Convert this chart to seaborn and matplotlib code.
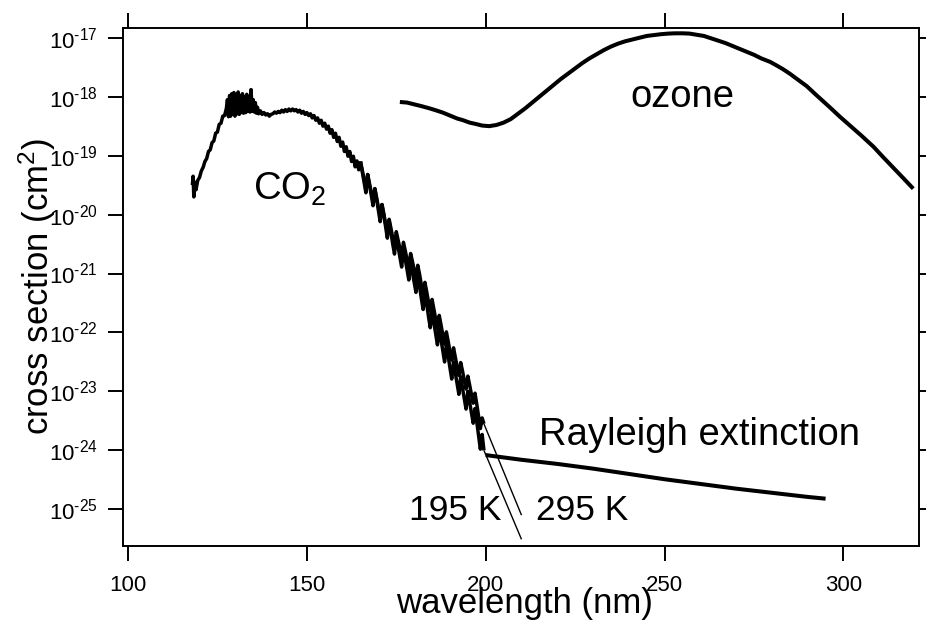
import numpy as np
import pandas as pd
import matplotlib
matplotlib.use("Agg")
import matplotlib.pyplot as plt
import seaborn as sns
from matplotlib.ticker import FixedLocator, NullLocator

# ---- data: log10 of absorption cross section (cm^2) vs wavelength (nm) ----

# CO2, part common to both temperatures (118-165 nm)
co2_shared_nm = [
    118.0, 118.2, 118.4, 118.7, 119.0, 119.5, 120.0, 120.5, 121.0, 121.5,
    122.0, 122.5, 123.0, 123.5, 124.0, 124.5, 125.0, 125.5, 126.0, 126.5,
    127.0, 127.5, 127.8, 128.1, 128.4, 128.7, 129.0, 129.3, 129.6, 129.9,
    130.2, 130.5, 130.8, 131.1, 131.4, 131.7, 132.0, 132.3, 132.6, 132.9,
    133.2, 133.5, 133.8, 134.1, 134.4, 134.7, 135.0, 135.3, 135.6, 135.9,
    136.2, 136.5, 137.0, 137.5, 138.0, 138.5, 139.0, 139.5, 140.0, 140.5,
    141.0, 141.5, 142.0, 142.5, 143.0, 143.5, 144.0, 144.5, 145.0, 145.5,
    146.0, 146.5, 147.0, 147.5, 148.0, 148.5, 149.0, 149.5, 150.0, 150.5,
    151.0, 151.5, 152.0, 152.5, 153.0, 153.5, 154.0, 154.5, 155.0, 155.5,
    156.0, 156.5, 157.0, 157.5, 158.0, 158.5, 159.0, 159.5, 160.0, 160.5,
    161.0, 161.5, 162.0, 162.5, 163.0, 163.5, 164.0, 164.5,
]
co2_shared_log = [
    -19.50, -19.35, -19.70, -19.45, -19.58, -19.42, -19.37, -19.26, -19.20, -19.10,
    -19.05, -18.93, -18.90, -18.78, -18.75, -18.62, -18.60, -18.47, -18.45, -18.33,
    -18.32, -18.20, -18.05, -18.34, -17.98, -18.33, -17.95, -18.30, -17.93, -18.33,
    -17.97, -18.29, -17.92, -18.30, -17.98, -18.27, -17.95, -18.28, -18.00, -18.27,
    -17.96, -18.25, -18.02, -18.26, -17.88, -18.25, -18.05, -18.26, -18.10, -18.28,
    -18.18, -18.29, -18.24, -18.30, -18.27, -18.31, -18.29, -18.33, -18.30, -18.29,
    -18.26, -18.28, -18.25, -18.27, -18.23, -18.26, -18.22, -18.25, -18.21, -18.24,
    -18.21, -18.24, -18.22, -18.26, -18.23, -18.28, -18.25, -18.30, -18.27, -18.32,
    -18.29, -18.36, -18.32, -18.40, -18.36, -18.45, -18.40, -18.50, -18.45, -18.55,
    -18.50, -18.62, -18.56, -18.69, -18.62, -18.76, -18.69, -18.84, -18.77, -18.93,
    -18.85, -19.01, -18.93, -19.10, -19.01, -19.19, -19.09, -19.24,
]

# CO2 band structure 165-199.5 nm, 0.5 nm sampling
co2_band_nm = np.arange(165.0, 200.0, 0.5)
co2_195K_log = [
    -19.10, -19.28, -19.45, -19.63, -19.32, -19.50, -19.67, -19.85, -19.56, -19.74,
    -19.93, -20.12, -19.83, -20.01, -20.20, -20.40, -20.10, -20.30, -20.50, -20.67,
    -20.37, -20.54, -20.72, -20.89, -20.59, -20.76, -20.93, -21.11, -20.80, -20.98,
    -21.15, -21.32, -21.02, -21.22, -21.42, -21.61, -21.33, -21.52, -21.73, -21.92,
    -21.64, -21.83, -22.02, -22.21, -21.93, -22.12, -22.31, -22.50, -22.21, -22.40,
    -22.60, -22.79, -22.50, -22.69, -22.87, -23.05, -22.75, -22.94, -23.12, -23.30,
    -23.00, -23.18, -23.36, -23.54, -23.29, -23.52, -23.75, -23.98, -23.73, -24.00,
]
co2_295K_log = [
    -19.10, -19.25, -19.40, -19.55, -19.32, -19.47, -19.62, -19.77, -19.56, -19.71,
    -19.88, -20.04, -19.83, -19.98, -20.15, -20.30, -20.08, -20.23, -20.39, -20.53,
    -20.29, -20.43, -20.57, -20.71, -20.47, -20.61, -20.76, -20.89, -20.66, -20.79,
    -20.94, -21.08, -20.86, -21.01, -21.19, -21.35, -21.15, -21.31, -21.48, -21.64,
    -21.44, -21.60, -21.77, -21.93, -21.71, -21.87, -22.04, -22.20, -21.99, -22.15,
    -22.32, -22.47, -22.26, -22.42, -22.58, -22.73, -22.51, -22.65, -22.81, -22.96,
    -22.74, -22.89, -23.05, -23.20, -23.03, -23.22, -23.42, -23.63, -23.45, -23.55,
]

# Long-wavelength extrapolation of CO2 (thin lines)
co2_extrap_nm = [199.5, 210.0]
co2_195K_extrap_log = [-24.00, -25.51]
co2_295K_extrap_log = [-23.55, -25.10]

# Ozone
ozone_nm = [176.0, 178.0, 180.0, 182.0, 184.4, 186.0, 188.0, 190.0, 192.0, 193.7,
            195.5, 197.0, 199.0, 201.0, 203.0, 205.0, 207.0, 209.0, 211.0, 213.0,
            215.0, 217.0, 219.0, 221.0, 223.0, 225.0, 227.0, 229.0, 231.0, 233.0,
            235.0, 237.0, 239.0, 241.0, 243.0, 245.0, 247.0, 249.0, 251.0, 253.0,
            255.0, 257.0, 259.0, 261.0, 263.0, 265.0, 267.0, 269.0, 271.0, 273.0,
            275.0, 277.0, 279.5, 281.0, 283.0, 285.0, 287.0, 289.7, 292.0, 294.0,
            296.0, 299.0, 302.0, 305.0, 308.4, 311.0, 314.0, 317.0, 319.5]
ozone_log = [-18.09, -18.10, -18.13, -18.16, -18.20, -18.23, -18.27, -18.32, -18.37, -18.40,
             -18.44, -18.46, -18.49, -18.50, -18.48, -18.44, -18.38, -18.29, -18.20, -18.10,
             -18.00, -17.90, -17.80, -17.70, -17.61, -17.52, -17.43, -17.35, -17.28, -17.21,
             -17.15, -17.10, -17.06, -17.03, -17.00, -16.97, -16.955, -16.94, -16.93, -16.925,
             -16.925, -16.93, -16.95, -16.97, -17.01, -17.05, -17.09, -17.14, -17.19, -17.24,
             -17.29, -17.35, -17.41, -17.46, -17.53, -17.61, -17.70, -17.82, -17.95, -18.06,
             -18.17, -18.34, -18.50, -18.66, -18.85, -19.02, -19.21, -19.40, -19.56]

# Rayleigh extinction
rayleigh_nm = [200, 210, 220, 230, 240, 250, 260, 270, 280, 290, 295]
rayleigh_log = [-24.08, -24.16, -24.23, -24.31, -24.40, -24.49, -24.57, -24.65, -24.72, -24.79, -24.82]

# Axis ticks
x_ticks = [100, 150, 200, 250, 300]
y_tick_exps = [-25, -24, -23, -22, -21, -20, -19, -18, -17]

# ---- style ----
sns.set_theme(style="ticks")
plt.rcParams["font.family"] = ["Liberation Sans", "DejaVu Sans"]
plt.rcParams["mathtext.fontset"] = "custom"
plt.rcParams["mathtext.rm"] = "Liberation Sans"
plt.rcParams["mathtext.it"] = "Liberation Sans:italic"
plt.rcParams["mathtext.bf"] = "Liberation Sans:bold"

fig = plt.figure(figsize=(9.26, 6.21), dpi=100)
ax = fig.add_axes([0.1328, 0.1214, 0.8596, 0.8335])

ink = "black"

def draw(xs, logs, lw):
    df = pd.DataFrame({"nm": xs, "sigma": np.power(10.0, logs)})
    sns.lineplot(data=df, x="nm", y="sigma", ax=ax, color=ink, linewidth=lw,
                 estimator=None, sort=False, solid_joinstyle="round",
                 solid_capstyle="butt")

draw(co2_shared_nm + [165.0], co2_shared_log + [co2_195K_log[0]], 2.5)
draw(co2_band_nm, co2_195K_log, 2.5)
draw(co2_band_nm, co2_295K_log, 2.5)
draw(co2_extrap_nm, co2_195K_extrap_log, 1.0)
draw(co2_extrap_nm, co2_295K_extrap_log, 1.0)
draw(ozone_nm, ozone_log, 2.9)
draw(rayleigh_nm, rayleigh_log, 2.9)

ax.set_yscale("log")
ax.set_xlim(98.6, 321.1)
ax.set_ylim(10 ** -25.616, 10 ** -16.835)
ax.xaxis.set_major_locator(FixedLocator(x_ticks))
ax.set_xticklabels([str(v) for v in x_ticks])
ax.yaxis.set_major_locator(FixedLocator([10.0 ** e for e in y_tick_exps]))
ax.set_yticklabels([r"$10^{\text{-}%d}$" % abs(e) for e in y_tick_exps])
ax.yaxis.set_minor_locator(NullLocator())
ax.xaxis.set_minor_locator(NullLocator())

for side in ["left", "right", "top", "bottom"]:
    ax.spines[side].set_visible(True)
    ax.spines[side].set_linewidth(1.4)
    ax.spines[side].set_color(ink)

ax.tick_params(axis="both", which="major", direction="out", length=11, width=1.4,
               color=ink, labelsize=16, top=True, right=True,
               labeltop=False, labelright=False, labelcolor=ink)
ax.tick_params(axis="x", pad=10)
ax.tick_params(axis="y", pad=7)

ax.set_xlabel("wavelength (nm)", fontsize=25, color=ink)
ax.set_ylabel(r"cross section (cm$^2$)", fontsize=25, color=ink)
ax.xaxis.set_label_coords(0.505, -0.080)
ax.yaxis.set_label_coords(-0.082, 0.5)

big_kw = dict(fontsize=27.5, color=ink, ha="left", va="baseline")
ax.text(134.9, 10 ** -19.75, r"CO$_2$", **big_kw)
ax.text(240.5, 10 ** -18.17, "ozone", **big_kw)
ax.text(215.0, 10 ** -23.91, "Rayleigh extinction", **big_kw)
small_kw = dict(fontsize=25.5, color=ink, ha="left", va="baseline")
ax.text(178.6, 10 ** -25.18, "195 K", **small_kw)
ax.text(214.0, 10 ** -25.18, "295 K", **small_kw)

ax.grid(False)
fig.savefig("out.png", dpi=100, facecolor="white")
